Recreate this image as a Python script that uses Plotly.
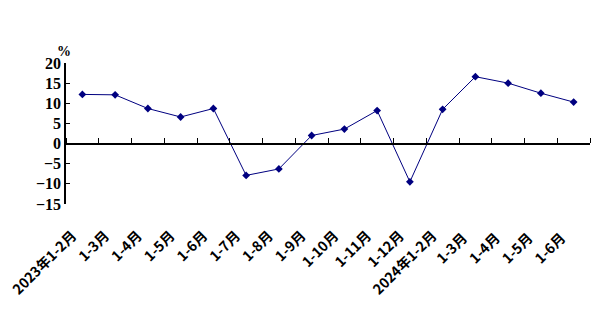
import plotly.graph_objects as go

categories = ["2023年1-2月", "1-3月", "1-4月", "1-5月", "1-6月", "1-7月", "1-8月", "1-9月",
              "1-10月", "1-11月", "1-12月", "2024年1-2月", "1-3月 ", "1-4月 ", "1-5月 ", "1-6月 "]
values = [12.2, 12.1, 8.7, 6.6, 8.7, -7.9, -6.3, 2.0, 3.6, 8.2, -9.5, 8.5, 16.6, 15.0, 12.5, 10.3]
y_ticks = [-15, -10, -5, 0, 5, 10, 15, 20]
y_range = [-15, 20]

navy = "#000080"
font_fam = "Liberation Serif, Noto Sans CJK SC, serif"

fig = go.Figure()
fig.add_trace(go.Scatter(
    x=categories, y=values, mode="lines+markers",
    line=dict(color=navy, width=1),
    marker=dict(symbol="diamond", size=6, color=navy),
    xaxis="x", yaxis="y", showlegend=False,
))
# invisible trace on the zero-line axis so it shares the categories
fig.add_trace(go.Scatter(
    x=categories, y=[None] * len(categories), mode="lines",
    xaxis="x2", yaxis="y", showlegend=False, hoverinfo="skip",
))

zero_pos = (0 - y_range[0]) / (y_range[1] - y_range[0])

fig.update_layout(
    width=599, height=318,
    margin=dict(l=66, r=9, t=63, b=114),
    paper_bgcolor="white", plot_bgcolor="white",
    font=dict(family=font_fam, color="black"),
    xaxis=dict(
        type="category", categoryorder="array", categoryarray=categories,
        range=[-0.5, len(categories) - 0.5],
        showline=False, showgrid=False, zeroline=False, ticks="",
        tickangle=-45, ticklabelstandoff=20, ticklabelshift=-10,
        tickfont=dict(size=14, family="Noto Sans CJK SC", weight="bold"),
        anchor="y",
    ),
    xaxis2=dict(
        type="category", categoryorder="array", categoryarray=categories,
        range=[-0.5, len(categories) - 0.5],
        overlaying="x", side="top", anchor="free", position=zero_pos,
        showline=True, linecolor="black", linewidth=1.5,
        ticks="outside", tickson="boundaries", ticklen=5, tickcolor="black",
        showticklabels=False, showgrid=False, zeroline=False,
    ),
    yaxis=dict(
        range=y_range, tickvals=y_ticks,
        ticktext=[str(v).replace("-", "−") for v in y_ticks],
        showline=True, linecolor="black", linewidth=1.5,
        ticks="inside", ticklen=4, tickcolor="black",
        showgrid=False, zeroline=False,
        tickfont=dict(size=16, family="Liberation Serif", weight="bold"),
    ),
    annotations=[dict(
        text="%", xref="paper", yref="paper", x=0, y=1, xanchor="center", yanchor="bottom",
        yshift=2, xshift=-2, showarrow=False, font=dict(size=14, family="Liberation Serif", weight="bold"),
    )],
)

fig.write_html("out.html")
